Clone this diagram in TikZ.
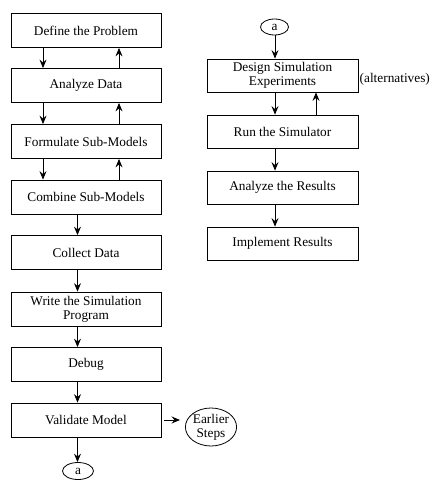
\documentclass[tikz,border=0pt]{standalone}
\usepackage{fontspec}
\setmainfont{Liberation Serif}
\usetikzlibrary{arrows.meta,shapes.geometric,calc}
\begin{document}
\begin{tikzpicture}[x=1pt,y=-1pt,
  box/.style={draw,line width=0.8pt,minimum width=150pt,minimum height=34pt,inner sep=0pt,
    align=center,font=\fontsize{13.3}{14}\selectfont},
  rbox/.style={box,minimum width=151pt,minimum height=33pt},
  conn/.style={draw,ellipse,line width=0.8pt,inner sep=0pt,font=\fontsize{13.3}{14}\selectfont},
  arr/.style={line width=0.8pt,-{Stealth[length=8.5pt,width=7pt,inset=3pt]}},
  plain/.style={font=\fontsize{13.3}{14}\selectfont,inner sep=0pt}]
\useasboundingbox (0,0) rectangle (445,487);
% left column
\node[box] (b1) at (86,30.5) {Define the Problem};
\node[box] (b2) at (86,85.5) {Analyze Data};
\node[box] (b3) at (86,141.5) {Formulate Sub-Models};
\node[box] (b4) at (86,197) {Combine Sub-Models};
\node[box] (b5) at (86,252.5) {Collect Data};
\node[box] (b6) at (86,309) {Write the Simulation\\Program};
\node[box] (b7) at (86,364.5) {Debug};
\node[box] (b8) at (86,420) {Validate Model};
\node[conn,minimum width=31pt,minimum height=17pt] (ca) at (78,471) {a};
\node[conn,minimum width=51pt,minimum height=38pt,align=center,font=\fontsize{13.3}{14}\selectfont] (es) at (211,427) {Earlier\\Steps};
% right column
\node[conn,minimum width=28pt,minimum height=16pt] (ra) at (274.5,27) {a};
\node[rbox] (r1) at (282.5,75.5) {Design Simulation\\Experiments};
\node[rbox] (r2) at (282.5,131.5) {Run the Simulator};
\node[rbox] (r3) at (282.5,187.5) {Analyze the Results};
\node[rbox] (r4) at (282.5,243.5) {Implement Results};
\node[plain,anchor=west] (alt) at (359.5,79) {(alternatives)};
% x positions of connectors
\coordinate (xl) at (43,0);
\coordinate (xr) at (119,0);
\coordinate (xc) at (77.5,0);
\coordinate (rxd) at (275,0);
\coordinate (rxu) at (316,0);
% left arrows
\draw[arr] (b1.south -| xl) -- (b2.north -| xl);
\draw[arr] (b2.north -| xr) -- (b1.south -| xr);
\draw[arr] (b2.south -| xl) -- (b3.north -| xl);
\draw[arr] (b3.north -| xr) -- (b2.south -| xr);
\draw[arr] (b3.south -| xl) -- (b4.north -| xl);
\draw[arr] (b4.north -| xr) -- (b3.south -| xr);
\draw[arr] (b4.south -| xc) -- (b5.north -| xc);
\draw[arr] (b5.south -| xc) -- (b6.north -| xc);
\draw[arr] (b6.south -| xc) -- (b7.north -| xc);
\draw[arr] (b7.south -| xc) -- (b8.north -| xc);
\draw[arr] (b8.south -| xc) -- (ca.north -| xc);
\draw[arr,shorten >=5pt] ($(b8.east)+(3,0)$) -- (b8.east -| es.west);
% right arrows
\draw[arr] (ra.south -| rxd) -- (r1.north -| rxd);
\draw[arr] (r1.south -| rxd) -- (r2.north -| rxd);
\draw[arr] (r2.north -| rxu) -- (r1.south -| rxu);
\draw[arr] (r2.south -| rxd) -- (r3.north -| rxd);
\draw[arr] (r3.south -| rxd) -- (r4.north -| rxd);
\end{tikzpicture}
\end{document}
